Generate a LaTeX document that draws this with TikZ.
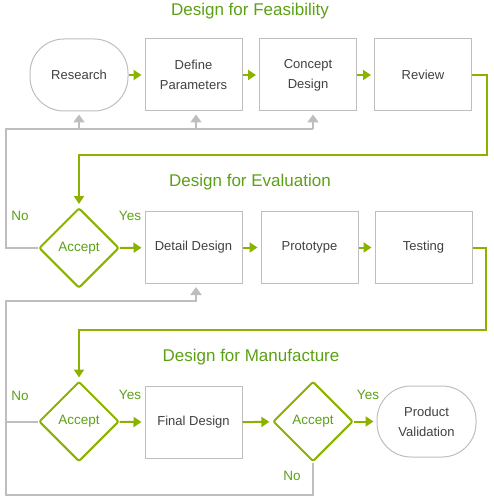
\documentclass[tikz,border=0pt]{standalone}
\usepackage{fontspec}
\setmainfont{Liberation Sans}
\usepackage{tikz}
\usetikzlibrary{arrows.meta,shapes.geometric}
\definecolor{leaf}{RGB}{140,178,0}
\definecolor{leaftext}{RGB}{92,160,22}
\definecolor{edge}{RGB}{190,190,190}
\definecolor{ink}{RGB}{64,64,64}

\begin{document}
\begin{tikzpicture}[x=1pt,y=-1pt, % 1pt = 1px, y nach unten
	box/.style={draw=edge,line width=1pt,minimum width=97pt,minimum height=72pt,inner sep=0pt,align=center,text=ink,font=\fontsize{13}{20}\selectfont},
	term/.style={box,minimum width=98pt,rounded corners=34pt},
	accept/.style={diamond,draw=leaf,line width=2pt,rounded corners=2pt,minimum width=80pt,minimum height=80pt,inner sep=0pt,text=leaftext,font=\fontsize{13.5}{16}\selectfont},
	flow/.style={draw=leaf,line width=2pt},
	go/.style={flow,-{Triangle[length=8pt,width=10pt]},shorten >=3pt},
	back/.style={draw=edge,line width=2pt},
	up/.style={back,-{Triangle[length=8pt,width=11pt]},shorten >=3pt},
	title/.style={text=leaftext,font=\fontsize{17}{19}\selectfont},
	tag/.style={text=leaftext,font=\fontsize{13.5}{15}\selectfont}]
	\useasboundingbox (0,0) rectangle (494,497);
	% Feasibility
	\node[title](T1) at (250,11) {Design for Feasibility};
	\node[term](research) at (79,75) {Research};
	\node[box](define) at (193.5,75) {Define\\Parameters};
	\node[box](concept) at (308,75) {Concept\\Design};
	\node[box](review) at (423,75) {Review};
	% Evaluation
	\node[title](T2) at (250,182) {Design for Evaluation};
	\node[accept](acc1) at (79,248) {Accept};
	\node[box](detail) at (193.5,247.5) {Detail Design};
	\node[box](proto) at (309.5,247.5) {Prototype};
	\node[box](test) at (423.5,247.5) {Testing};
	\node[tag](no1) at (20,216) {No};\node[tag](yes1) at (130,216) {Yes};
	% Manufacture
	\node[title](T3) at (251,357) {Design for Manufacture};
	\node[accept](acc2) at (79,421.5) {Accept};
	\node[box](final) at (193.5,422.5) {Final Design};
	\node[accept](acc3) at (313,421.5) {Accept};
	\node[term,minimum width=99pt,minimum height=71pt](valid) at (426.5,421.5) {Product\\Validation};
	\node[tag](no2) at (20,396) {No};\node[tag](yes2) at (130,395) {Yes};
	\node[tag](yes3) at (368,395) {Yes};\node[tag](no3) at (292,476) {No};
	% Knicke
	\coordinate(turn1) at (487,155);\coordinate(turn2) at (486,330);
	\coordinate(fb1) at (6,129);\coordinate(fb2) at (6,301);\coordinate(fb3) at (6,495);
	% Verbindungen
	\draw[go] (research) -- (define);\draw[go] (define) -- (concept);\draw[go] (concept) -- (review);
	\draw[go] (review.east) -| (turn1) -| (acc1.north);
	\draw[back] (acc1.west) -| (fb1) -- ([xshift=5pt]fb1 -| concept.south);
	\draw[up] (fb1 -| research.south) -- (research.south);
	\draw[up] ([xshift=2.5pt]fb1 -| define.south) -- ([xshift=2.5pt]define.south);
	\draw[up] ([xshift=5pt]fb1 -| concept.south) -- ([xshift=5pt]concept.south);
	\draw[go] (acc1) -- (detail);\draw[go] (detail) -- (proto);\draw[go] (proto) -- (test);
	\draw[go] (test.east) -| (turn2) -| (acc2.north);
	\draw[up] (acc3.south) |- (fb3) -- (fb2) -| ([xshift=2.5pt]detail.south);
	\draw[back] (acc2.west) -- (acc2.west -| fb3);
	\draw[go] (acc2) -- (final);\draw[go] (final) -- (acc3);\draw[go] (acc3) -- (valid);
\end{tikzpicture}
\end{document}
